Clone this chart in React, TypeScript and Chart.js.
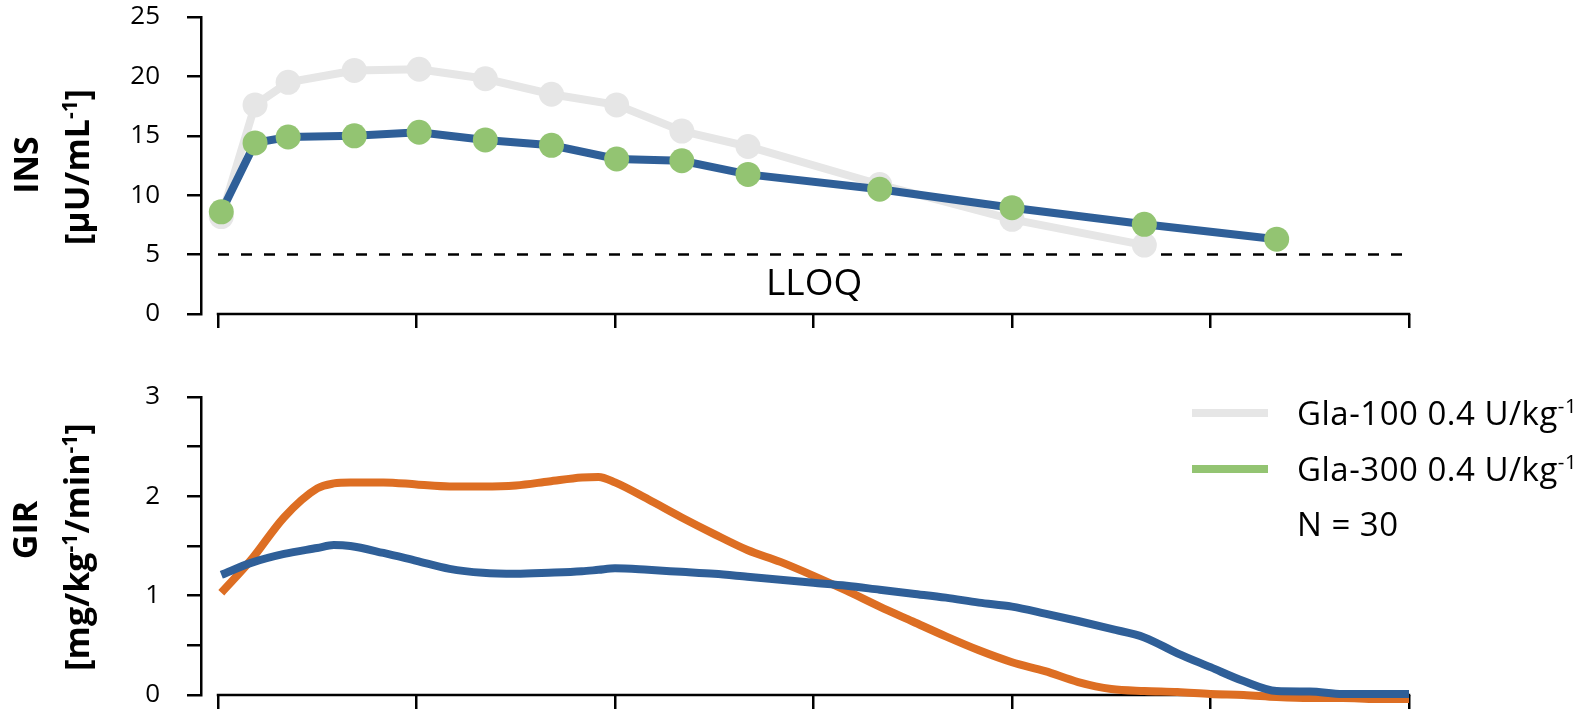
import React, { useEffect, useRef } from 'react';
import { Chart, registerables } from 'chart.js';

Chart.register(...registerables);

// ---------- DATA ----------
const insTime = [0.1, 1.12, 2.12, 4.12, 6.08, 8.08, 10.08, 12.05, 14.02, 16.02, 20, 24, 28, 32];
const insGla100 = [8.2, 17.6, 19.5, 20.5, 20.6, 19.8, 18.5, 17.6, 15.4, 14.1, 10.9, 7.97, 5.8];
const insGla300 = [8.6, 14.4, 14.9, 15.0, 15.3, 14.65, 14.2, 13.05, 12.9, 11.75, 10.5, 8.95, 7.55, 6.3];
const lloqValue = 5;
const lloqRange = [0, 35.85];

const girTime = [0.1, 1, 2, 3, 3.5, 4, 5, 6, 7, 8, 9, 10, 11, 11.5, 12, 13, 14, 15, 16, 17, 18, 19, 20, 21, 22, 23, 24, 25, 26, 27, 28, 29, 30, 31, 32, 33, 34, 35, 36];
const girGla100 = [1.03, 1.36, 1.79, 2.08, 2.13, 2.14, 2.14, 2.12, 2.1, 2.1, 2.11, 2.15, 2.19, 2.195, 2.14, 1.97, 1.79, 1.62, 1.46, 1.34, 1.2, 1.05, 0.89, 0.74, 0.59, 0.45, 0.33, 0.24, 0.13, 0.06, 0.04, 0.03, 0.01, 0.0, -0.02, -0.03, -0.03, -0.04, -0.04];
const girGla300 = [1.21, 1.33, 1.42, 1.48, 1.51, 1.5, 1.43, 1.35, 1.27, 1.23, 1.22, 1.23, 1.245, 1.26, 1.275, 1.26, 1.24, 1.22, 1.19, 1.16, 1.13, 1.1, 1.06, 1.02, 0.98, 0.93, 0.89, 0.82, 0.745, 0.665, 0.58, 0.42, 0.28, 0.14, 0.04, 0.035, 0.01, 0.01, 0.01];

const xTicks = [0, 6, 12, 18, 24, 30, 36];
const insTicks = [0, 5, 10, 15, 20, 25];
const girTicks = [0, 0.5, 1, 1.5, 2, 2.5, 3];

const legendLabels = ['Gla-100 0.4 U/kg', 'Gla-300 0.4 U/kg'];
const legendNote = 'N = 30';

// ---------- STYLE ----------
const FONT = '"Open Sans", "Noto Sans", sans-serif';
const GRAY = '#e6e6e6';
const BLUE = '#2f5f98';
const GREEN = '#93c472';
const ORANGE = '#dd6e23';
const W = 1581;
const TOP_H = 345;
const BOT_H = 366;
const PLOT_LEFT = 201;
const X0_PX = 218;
const X36_PX = 1409;
const X_MIN = -36 * (X0_PX - PLOT_LEFT) / (X36_PX - X0_PX);

type Run = [string, boolean];

function drawRuns(ctx: CanvasRenderingContext2D, runs: Run[], x: number, y: number, size: number, weight: string, align: 'left' | 'center', spacing = 0) {
  const supSize = size * 0.62;
  (ctx as any).letterSpacing = `${spacing}px`;
  const widths = runs.map(([t, sup]) => {
    ctx.font = `${weight} ${sup ? supSize : size}px ${FONT}`;
    return ctx.measureText(t).width;
  });
  const total = widths.reduce((a, b) => a + b, 0);
  let cx = align === 'center' ? x - total / 2 : x;
  ctx.textAlign = 'left';
  ctx.textBaseline = 'alphabetic';
  ctx.fillStyle = '#000';
  runs.forEach(([t, sup], i) => {
    ctx.font = `${weight} ${sup ? supSize : size}px ${FONT}`;
    ctx.fillText(t, cx, sup ? y - size * 0.36 : y);
    cx += widths[i];
  });
  (ctx as any).letterSpacing = '0px';
}

function drawVertical(ctx: CanvasRenderingContext2D, runs: Run[], baselineX: number, centerY: number, size: number) {
  ctx.save();
  ctx.translate(baselineX, centerY);
  ctx.rotate(-Math.PI / 2);
  drawRuns(ctx, runs, 0, 0, size, 'bold', 'center');
  ctx.restore();
}

const axisLinePlugin = {
  id: 'xAxisLine',
  beforeDatasetsDraw(chart: any) {
    const { ctx, scales } = chart;
    const y = scales.y.getPixelForValue(0);
    ctx.save();
    ctx.strokeStyle = '#000';
    ctx.lineWidth = 2.5;
    ctx.beginPath();
    ctx.moveTo(scales.x.getPixelForValue(xTicks[0]) - 1.25, y);
    ctx.lineTo(scales.x.getPixelForValue(xTicks[xTicks.length - 1]) + 1.25, y);
    ctx.stroke();
    ctx.restore();
  },
};

function xScale(height: number) {
  return {
    type: 'linear',
    min: X_MIN,
    max: 36,
    border: { display: false },
    grid: { drawOnChartArea: false, drawTicks: true, tickLength: 14, color: '#000', lineWidth: 2.5 },
    ticks: { display: false },
    afterBuildTicks: (s: any) => { s.ticks = xTicks.map((v) => ({ value: v })); },
    afterFit: (s: any) => {
      s.height = height;
      s.paddingLeft = 0;
      s.paddingRight = 0;
    },
  };
}

function yScale(min: number, max: number, ticks: number[], label: (v: number) => string) {
  return {
    min,
    max,
    border: { display: true, color: '#000', width: 2.5 },
    grid: { drawOnChartArea: false, drawTicks: true, tickLength: 14, color: '#000', lineWidth: 2.5 },
    ticks: { padding: 27, color: '#000', font: { family: FONT, size: 26 }, callback: (v: any) => label(Number(v)) },
    afterBuildTicks: (s: any) => { s.ticks = ticks.map((v) => ({ value: v })); },
    afterFit: (s: any) => {
      s.width = PLOT_LEFT;
      s.paddingTop = 0;
      s.paddingBottom = 0;
    },
  };
}

export default function App() {
  const topRef = useRef<HTMLCanvasElement>(null);
  const botRef = useRef<HTMLCanvasElement>(null);

  useEffect(() => {
    const topTextPlugin = {
      id: 'topText',
      afterDraw(chart: any) {
        const ctx = chart.ctx as CanvasRenderingContext2D;
        drawVertical(ctx, [['INS', false]], 38, 165, 34);
        drawVertical(ctx, [['[µU/mL', false], ['-1', true], [']', false]], 89, 167, 34);
        ctx.save();
        ctx.font = `37px ${FONT}`;
        ctx.fillStyle = '#000';
        ctx.textAlign = 'left';
        ctx.textBaseline = 'alphabetic';
        ctx.fillText('LLOQ', 766, 295);
        ctx.restore();
      },
    };
    const off = TOP_H;
    const botTextPlugin = {
      id: 'botText',
      afterDraw(chart: any) {
        const ctx = chart.ctx as CanvasRenderingContext2D;
        drawVertical(ctx, [['GIR', false]], 37, 530 - off, 34);
        drawVertical(ctx, [['[mg/kg', false], ['-1', true], ['/min', false], ['-1', true], [']', false]], 89, 547 - off, 34);
        ctx.save();
        ctx.lineWidth = 8;
        [GRAY, GREEN].forEach((c, i) => {
          ctx.strokeStyle = c;
          ctx.beginPath();
          ctx.moveTo(1192, 413 - off + i * 56);
          ctx.lineTo(1268, 413 - off + i * 56);
          ctx.stroke();
        });
        ctx.restore();
        legendLabels.forEach((t, i) => {
          drawRuns(ctx, [[t, false], ['-1', true]], 1297, 425 - off + i * 55.5, 33, 'normal', 'left', 0.5);
        });
        drawRuns(ctx, [[legendNote, false]], 1297, 536 - off, 33, 'normal', 'left', 0.5);
      },
    };

    const top = new Chart(topRef.current!, {
      type: 'line',
      data: {
        datasets: [
          {
            label: 'Gla-300',
            data: insGla300.map((v, i) => ({ x: insTime[i], y: v })),
            borderColor: BLUE,
            borderWidth: 8,
            pointBackgroundColor: GREEN,
            pointBorderWidth: 0,
            pointRadius: 12.5,
            tension: 0,
            clip: false,
          },
          {
            label: 'Gla-100',
            data: insGla100.map((v, i) => ({ x: insTime[i], y: v })),
            borderColor: GRAY,
            borderWidth: 8,
            pointBackgroundColor: GRAY,
            pointBorderWidth: 0,
            pointRadius: 12.5,
            tension: 0,
            clip: false,
          },
          {
            label: 'LLOQ',
            data: lloqRange.map((x) => ({ x, y: lloqValue })),
            borderColor: '#000',
            borderWidth: 2.5,
            borderDash: [11, 12],
            pointRadius: 0,
            clip: false,
          },
        ],
      },
      options: {
        animation: false,
        responsive: false,
        layout: { padding: { top: 17, left: 0, right: W - X36_PX, bottom: 0 } },
        plugins: { legend: { display: false }, tooltip: { enabled: false } },
        scales: {
          x: xScale(TOP_H - 314) as any,
          y: yScale(0, 25, insTicks, (v) => String(v)) as any,
        },
      },
      plugins: [axisLinePlugin, topTextPlugin],
    });

    const bot = new Chart(botRef.current!, {
      type: 'line',
      data: {
        datasets: [
          {
            label: 'Gla-300',
            data: girGla300.map((v, i) => ({ x: girTime[i], y: v })),
            borderColor: BLUE,
            borderWidth: 8,
            pointRadius: 0,
            cubicInterpolationMode: 'monotone',
            clip: false,
          },
          {
            label: 'Gla-100',
            data: girGla100.map((v, i) => ({ x: girTime[i], y: v })),
            borderColor: ORANGE,
            borderWidth: 8,
            pointRadius: 0,
            cubicInterpolationMode: 'monotone',
            clip: false,
          },
        ],
      },
      options: {
        animation: false,
        responsive: false,
        layout: { padding: { top: 397 - TOP_H, left: 0, right: W - X36_PX, bottom: 0 } },
        plugins: { legend: { display: false }, tooltip: { enabled: false } },
        scales: {
          x: xScale(711 - 695) as any,
          y: yScale(0, 3, girTicks, (v) => (Number.isInteger(v) ? String(v) : '')) as any,
        },
      },
      plugins: [axisLinePlugin, botTextPlugin],
    });

    return () => {
      top.destroy();
      bot.destroy();
    };
  }, []);

  return (
    <div style={{ position: 'absolute', left: 0, top: 0, width: W, height: 711, overflow: 'hidden', background: '#fff' }}>
      <canvas ref={topRef} width={W} height={TOP_H} style={{ position: 'absolute', left: 0, top: 0, width: W, height: TOP_H }} />
      <canvas ref={botRef} width={W} height={BOT_H} style={{ position: 'absolute', left: 0, top: TOP_H, width: W, height: BOT_H }} />
    </div>
  );
}
